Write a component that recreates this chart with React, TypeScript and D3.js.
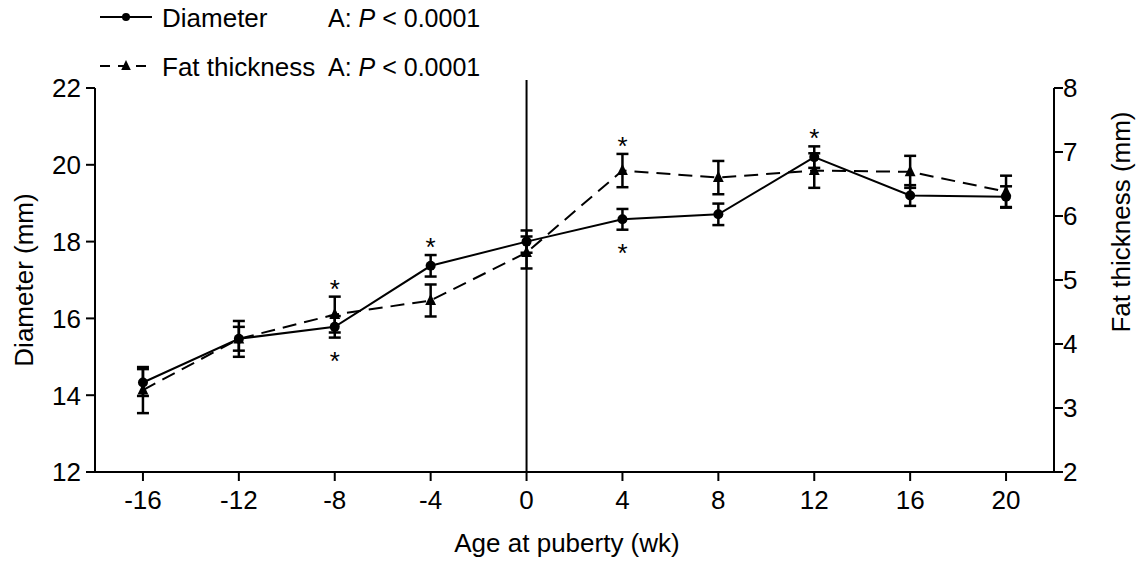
import React from "react";
import * as d3 from "d3";

const weeks = [-16, -12, -8, -4, 0, 4, 8, 12, 16, 20];
const diameter = [14.33, 15.47, 15.78, 17.37, 18.0, 18.58, 18.71, 20.2, 19.2, 19.17];
const diameterSE = [0.35, 0.31, 0.28, 0.28, 0.29, 0.27, 0.28, 0.28, 0.27, 0.27];
const fat = [3.28, 4.08, 4.46, 4.68, 5.43, 6.71, 6.6, 6.71, 6.69, 6.38];
const fatSE = [0.36, 0.28, 0.28, 0.25, 0.25, 0.26, 0.26, 0.27, 0.25, 0.25];
const xTicks = [-16, -12, -8, -4, 0, 4, 8, 12, 16, 20];
const leftTicks = [12, 14, 16, 18, 20, 22];
const rightTicks = [2, 3, 4, 5, 6, 7, 8];
// significance marks: week, series, side
const stars = [
  { week: -8, series: "fat", side: "above" },
  { week: -8, series: "diameter", side: "below" },
  { week: -4, series: "diameter", side: "above" },
  { week: 4, series: "fat", side: "above" },
  { week: 4, series: "diameter", side: "below" },
  { week: 12, series: "diameter", side: "above" },
];

const W = 1147;
const H = 565;
const left = 95;
const right = 1054;
const top = 88;
const bottom = 472;
const FONT = "'Liberation Sans', Arial, Helvetica, sans-serif";

export default function App() {
  const x = d3.scaleLinear().domain([-18, 22]).range([left, right]);
  const yD = d3.scaleLinear().domain([12, 22]).range([bottom, top]);
  const yF = d3.scaleLinear().domain([2, 8]).range([bottom, top]);

  const lineD = d3
    .line<number>()
    .x((_, i) => x(weeks[i]))
    .y((d) => yD(d));
  const lineF = d3
    .line<number>()
    .x((_, i) => x(weeks[i]))
    .y((d) => yF(d));

  const cap = 6;
  const tri = (cx: number, cy: number, s: number) =>
    `M${cx},${cy - s * 0.75} L${cx + s * 0.6},${cy + s * 0.5} L${cx - s * 0.6},${cy + s * 0.5} Z`;

  const errBar = (xv: number, lo: number, hi: number, key: string) => (
    <g key={key} stroke="#000" strokeWidth={2.5}>
      <line x1={xv} x2={xv} y1={lo} y2={hi} />
      <line x1={xv - cap} x2={xv + cap} y1={lo} y2={lo} />
      <line x1={xv - cap} x2={xv + cap} y1={hi} y2={hi} />
    </g>
  );

  return (
    <svg width={W} height={H} style={{ position: "absolute", left: 0, top: 0 }} fontFamily={FONT}>
      <rect width={W} height={H} fill="#fff" />
      {/* legend */}
      <g>
        <line x1={100} x2={152} y1={17} y2={17} stroke="#000" strokeWidth={2} />
        <circle cx={126} cy={17} r={4} fill="#000" />
        <text x={162} y={27} fontSize={26}>Diameter</text>
        <text x={328} y={27} fontSize={25}>
          A: <tspan fontStyle="italic">P</tspan> &lt; 0.0001
        </text>
        <line x1={100} x2={153} y1={66} y2={66} stroke="#000" strokeWidth={2} strokeDasharray="10,8" />
        <path d={tri(126, 66, 8)} fill="#000" />
        <text x={162} y={76} fontSize={26}>Fat thickness</text>
        <text x={328} y={76} fontSize={25}>
          A: <tspan fontStyle="italic">P</tspan> &lt; 0.0001
        </text>
      </g>

      {/* axes */}
      <g stroke="#000" strokeWidth={2} fill="none">
        <line x1={left} x2={left} y1={top} y2={bottom} />
        <line x1={right} x2={right} y1={top} y2={bottom} />
        <line x1={left} x2={right} y1={bottom} y2={bottom} />
        <line x1={x(0)} x2={x(0)} y1={80} y2={bottom} />
        {leftTicks.map((t) => (
          <line key={"lt" + t} x1={left - 9} x2={left} y1={yD(t)} y2={yD(t)} />
        ))}
        {rightTicks.map((t) => (
          <line key={"rt" + t} x1={right} x2={right + 9} y1={yF(t)} y2={yF(t)} />
        ))}
        {xTicks.map((t) => (
          <line key={"xt" + t} x1={x(t)} x2={x(t)} y1={bottom} y2={bottom + 9} />
        ))}
      </g>
      {leftTicks.map((t) => (
        <text key={"ll" + t} x={left - 14} y={yD(t) + 9.3} fontSize={26} textAnchor="end">
          {t}
        </text>
      ))}
      {rightTicks.map((t) => (
        <text key={"rl" + t} x={right + 9} y={yF(t) + 9.3} fontSize={26}>
          {t}
        </text>
      ))}
      {xTicks.map((t) => (
        <text key={"xl" + t} x={x(t)} y={509} fontSize={26} textAnchor="middle">
          {t}
        </text>
      ))}
      <text x={567} y={552} fontSize={26} textAnchor="middle">
        Age at puberty (wk)
      </text>
      <text transform={`translate(33,280) rotate(-90)`} fontSize={26} textAnchor="middle">
        Diameter (mm)
      </text>
      <text transform={`translate(1130,222) rotate(-90)`} fontSize={26} textAnchor="middle">
        Fat thickness (mm)
      </text>

      {/* error bars */}
      {weeks.map((w, i) => errBar(x(w), yD(diameter[i] - diameterSE[i]), yD(diameter[i] + diameterSE[i]), "ed" + i))}
      {weeks.map((w, i) => errBar(x(w), yF(fat[i] - fatSE[i]), yF(fat[i] + fatSE[i]), "ef" + i))}

      {/* lines */}
      <path d={lineF(fat) || ""} fill="none" stroke="#000" strokeWidth={2} strokeDasharray="14,8" />
      <path d={lineD(diameter) || ""} fill="none" stroke="#000" strokeWidth={2} />

      {/* markers */}
      {weeks.map((w, i) => (
        <path key={"mf" + i} d={tri(x(w), yF(fat[i]), 9)} fill="#000" />
      ))}
      {weeks.map((w, i) => (
        <circle key={"md" + i} cx={x(w)} cy={yD(diameter[i])} r={5} fill="#000" />
      ))}

      {/* stars */}
      {stars.map((s, k) => {
        const i = weeks.indexOf(s.week);
        const capY =
          s.series === "fat"
            ? s.side === "above"
              ? yF(fat[i] + fatSE[i])
              : yF(fat[i] - fatSE[i])
            : s.side === "above"
            ? yD(diameter[i] + diameterSE[i])
            : yD(diameter[i] - diameterSE[i]);
        const cy = s.side === "above" ? capY - 14 : capY + 17;
        return (
          <text key={"s" + k} x={x(s.week)} y={cy + 15} fontSize={26} textAnchor="middle">
            *
          </text>
        );
      })}
    </svg>
  );
}
